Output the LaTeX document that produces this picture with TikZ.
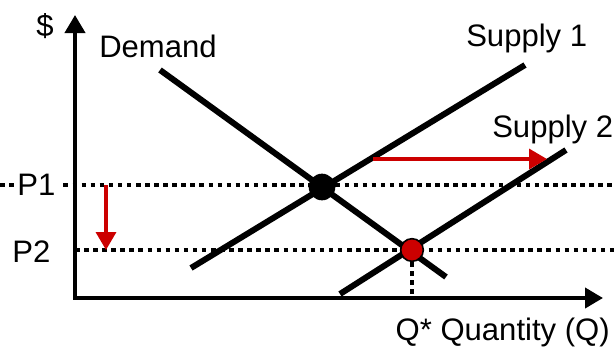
\documentclass[tikz,border=0pt]{standalone}
\usepackage{fontspec}
\setmainfont{Liberation Sans}
\usetikzlibrary{arrows.meta}
\definecolor{econred}{RGB}{204,0,0}
\tikzset{
  axisline/.style={line width=3pt, -{Triangle[width=15pt,length=13.5pt]}},
  curveline/.style={line width=4.5pt},
  guideline/.style={line width=3pt, dash pattern=on 3.4pt off 3.4pt},
  shiftarrow/.style={line width=2.6pt, econred, -{Triangle[width=15pt,length=13.5pt]}},
  lbl/.style={font=\fontsize{23.3}{28}\selectfont, inner sep=0pt},
  eqdot/.style={circle, inner sep=0pt},
}
\begin{document}
\begin{tikzpicture}[x=0.75pt,y=-0.75pt]
\useasboundingbox (0,0) rectangle (615,350);
% coordinates
\coordinate (O) at (75,298);
\coordinate (ytop) at (75,15);
\coordinate (xend) at (603,298);
\coordinate (p1L) at (0,185);
\coordinate (p1R) at (615,185);
\coordinate (p2L) at (75,250);
\coordinate (p2R) at (615,250);
\coordinate (qstar) at (412,298);
\coordinate (d1) at (160,70);
\coordinate (d2) at (446,277);
\coordinate (s1a) at (191,268);
\coordinate (s1b) at (525,65);
\coordinate (s2a) at (340,294);
\coordinate (s2b) at (566,150);
\coordinate (a1) at (106,185);
\coordinate (a2) at (106,250);
\coordinate (b1) at (373,159);
\coordinate (b2) at (547,159);
% dotted guides
\draw[guideline] (p1L) -- (p1R);
\draw[guideline] (p2L) -- (p2R);
% curves
\draw[curveline] (d1) -- (d2);
\draw[curveline] (s1a) -- (s1b);
\draw[curveline] (s2a) -- (s2b);
% equilibrium points
\node[eqdot, fill=black, minimum size=20pt] (E1) at (322,187) {};
\node[eqdot, fill=econred, draw=black, line width=1.2pt, minimum size=17pt] (E2) at (412,250) {};
\draw[guideline] (E2.south) -- (qstar);
% axes
\draw[axisline] (O) -- (ytop);
\draw[axisline] ([xshift=-1.5pt]O) -- (xend);
% shift arrows
\draw[shiftarrow] (a1) -- (a2);
\draw[shiftarrow] (b1) -- (b2);
% labels
\node[lbl, anchor=base] (dollar) at (45,36) {\$};
\node[lbl, anchor=base west] (demand) at (99,57) {Demand};
\node[lbl, anchor=base west] (sup1) at (466,46) {Supply 1};
\node[lbl, anchor=base west] (sup2) at (492,137) {Supply 2};
\node[lbl, anchor=base, fill=white, inner xsep=3pt, inner ysep=1pt] (P1) at (36.5,195) {P1};
\node[lbl, anchor=base] (P2) at (31.5,262) {P2};
\node[lbl, anchor=base east] (qlab) at (610,340) {Q* Quantity (Q)};
\end{tikzpicture}
\end{document}
